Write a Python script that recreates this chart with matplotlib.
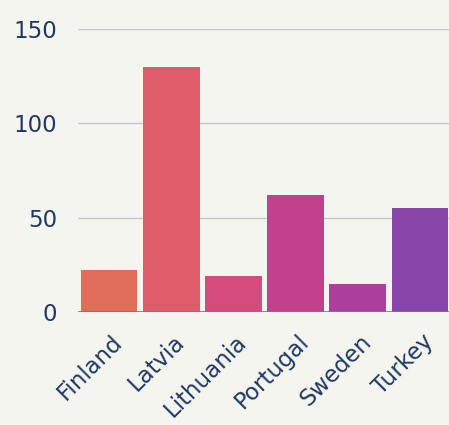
import matplotlib
matplotlib.use("Agg")
import matplotlib.pyplot as plt
from matplotlib.transforms import ScaledTranslation

countries = ["Finland", "Latvia", "Lithuania", "Portugal", "Sweden", "Turkey"]
values = [22, 130, 19, 62, 15, 55]
colors = ["#E06C5A", "#DE5B6A", "#D44B7C", "#C3408C", "#AA3F9E", "#8944AA"]
yticks = [0, 50, 100, 150]

bg = "#F5F5EF"
txt = "#1F3864"

plt.rcParams['font.family'] = ['DejaVu Sans']

fig = plt.figure(figsize=(4.49, 4.25), dpi=100, facecolor=bg)
ax = fig.add_axes([78/449, (425-312)/425, (451-78)/449, (312-29)/425])
ax.set_facecolor(bg)

x = list(range(len(countries)))
ax.bar(x, values, width=0.91, color=colors, zorder=3)
ax.set_xlim(-0.5, 5.5)
ax.set_ylim(0, 150)
ax.set_yticks(yticks)
ax.set_yticklabels([str(v) for v in yticks], fontsize=16.5, color=txt)
ax.set_xticks(x)
ax.set_xticklabels(countries, rotation=45, ha='right', va='baseline',
                   rotation_mode='anchor', fontsize=16.5, color=txt)
ax.tick_params(axis='both', length=0)
ax.tick_params(axis='y', pad=15)
ax.tick_params(axis='x', pad=0)
off = ScaledTranslation(14.5/100, -31/100, fig.dpi_scale_trans)
for lab in ax.get_xticklabels():
    lab.set_transform(lab.get_transform() + off)
for v in yticks[1:]:
    ax.axhline(v, color="#C3C7CC", linewidth=1, zorder=1)
ax.axhline(0, color="#6A7A96", linewidth=1.2, zorder=4)
for s in ax.spines.values():
    s.set_visible(False)

fig.savefig("out.png", dpi=100, facecolor=bg)
